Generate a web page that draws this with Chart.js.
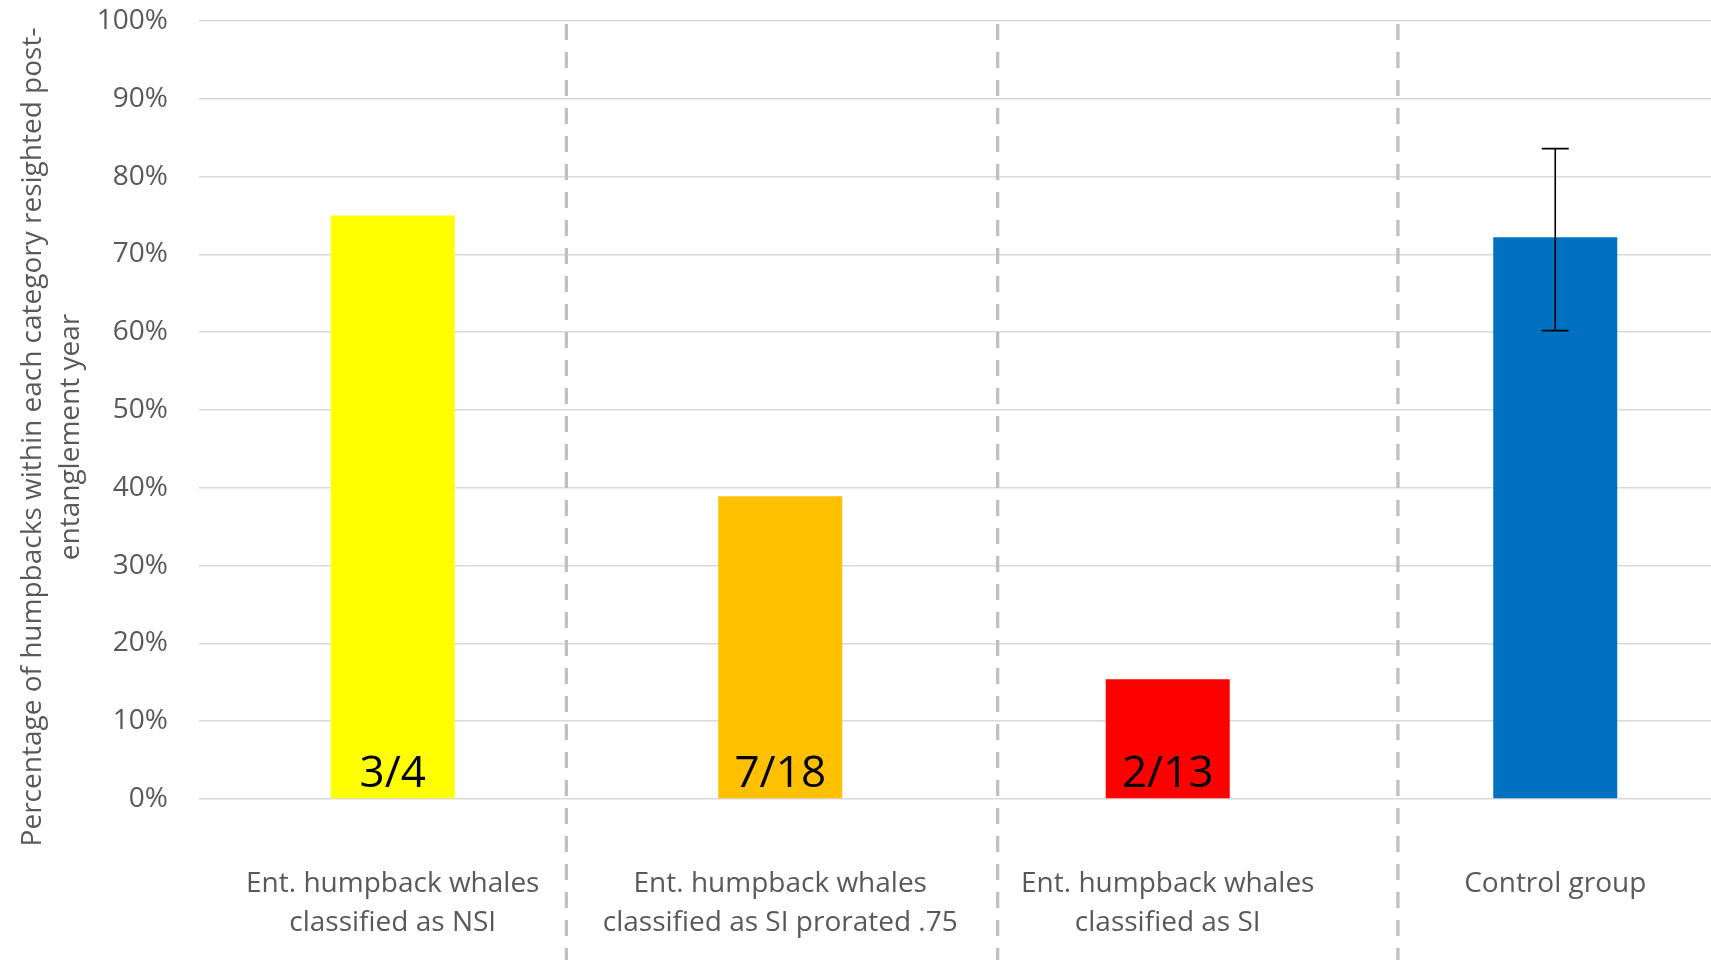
<!DOCTYPE html>
<html>
<head>
<meta charset="utf-8">
<script src="https://cdn.jsdelivr.net/npm/chart.js@4.4.1/dist/chart.umd.min.js"></script>
<style>
  html, body { margin: 0; padding: 0; background: #fff; overflow: hidden; }
  #wrap { width: 1750px; height: 960px; position: relative; }
</style>
</head>
<body>
<div id="wrap"><canvas id="chart"></canvas></div>
<script>
// ---------------------------
// Data
// ---------------------------
const categories = [
    ["Ent. humpback whales", "classified as NSI"],
    ["Ent. humpback whales", "classified as SI prorated .75"],
    ["Ent. humpback whales", "classified as SI"],
    ["Control group"]
];
const percentResighted = [75, 38.9, 15.4, 72.2];
const barColors = ["#FFFF00", "#FFC000", "#FF0000", "#0070C0"];
const barLabels = ["3/4", "7/18", "2/13", ""];
// error bar on control group only: [low, high]
const errorLow = [null, null, null, 60.2];
const errorHigh = [null, null, null, 83.6];
// dashed separators, in category-index units
const separatorPositions = [0.448, 1.561, 2.594];
const yTitleLines = [
    "Percentage of humpbacks within each category resighted post-",
    "entanglement year"
];

const FONT = "'Open Sans', sans-serif";
const GREY_TEXT = "#595959";

// ---------------------------
// Plugins
// ---------------------------
const separators = {
    id: "separators",
    beforeDatasetsDraw(chart) {
        const { ctx, chartArea, scales } = chart;
        ctx.save();
        ctx.strokeStyle = "#c0c0c0";
        ctx.lineWidth = 3.3;
        ctx.setLineDash([16, 12]);
        separatorPositions.forEach(p => {
            const x = scales.x.getPixelForValue(p);
            ctx.beginPath();
            ctx.moveTo(x, chartArea.top + 3);
            ctx.lineTo(x, chart.height);
            ctx.stroke();
        });
        ctx.restore();
    }
};

const barExtras = {
    id: "barExtras",
    afterDatasetsDraw(chart) {
        const { ctx, scales } = chart;
        const bars = chart.getDatasetMeta(0).data;
        ctx.save();
        // fraction labels at the foot of each bar
        ctx.fillStyle = "#000";
        ctx.font = "44px " + FONT;
        ctx.textAlign = "center";
        ctx.textBaseline = "alphabetic";
        bars.forEach((b, i) => {
            if (barLabels[i]) ctx.fillText(barLabels[i], b.x, b.base - 11);
        });
        // error bars
        ctx.strokeStyle = "#000";
        ctx.lineWidth = 1.6;
        bars.forEach((b, i) => {
            if (errorLow[i] == null) return;
            const y1 = scales.y.getPixelForValue(errorLow[i]);
            const y2 = scales.y.getPixelForValue(errorHigh[i]);
            ctx.beginPath();
            ctx.moveTo(b.x, y1); ctx.lineTo(b.x, y2);
            ctx.moveTo(b.x - 13.5, y1); ctx.lineTo(b.x + 13.5, y1);
            ctx.moveTo(b.x - 13.5, y2); ctx.lineTo(b.x + 13.5, y2);
            ctx.stroke();
        });
        ctx.restore();
    }
};

const yTitle = {
    id: "yTitle",
    afterDraw(chart) {
        const { ctx, chartArea } = chart;
        const cy = (chartArea.top + chartArea.bottom) / 2 + 27;
        ctx.save();
        ctx.fillStyle = GREY_TEXT;
        ctx.font = "28px " + FONT;
        ctx.textAlign = "center";
        ctx.textBaseline = "middle";
        ctx.translate(33, cy);
        ctx.rotate(-Math.PI / 2);
        yTitleLines.forEach((t, i) => ctx.fillText(t, 0, i * 38));
        ctx.restore();
    }
};

// ---------------------------
// Chart
// ---------------------------
new Chart(document.getElementById("chart"), {
    type: "bar",
    data: {
        labels: categories,
        datasets: [{
            data: percentResighted,
            backgroundColor: barColors,
            borderWidth: 0,
            barPercentage: 0.32,
            categoryPercentage: 1
        }]
    },
    options: {
        responsive: true,
        maintainAspectRatio: false,
        animation: false,
        layout: { padding: { top: 21, right: 1, left: 0, bottom: 0 } },
        plugins: {
            legend: { display: false },
            tooltip: { enabled: false }
        },
        scales: {
            x: {
                grid: { display: false },
                border: { display: false },
                ticks: {
                    color: GREY_TEXT,
                    font: { family: FONT, size: 28, lineHeight: 1.39 },
                    padding: 58,
                    maxRotation: 0,
                    autoSkip: false
                },
                afterFit: s => { s.height = 161; s.paddingLeft = 0; s.paddingRight = 0; }
            },
            y: {
                min: 0,
                max: 100,
                ticks: {
                    stepSize: 10,
                    color: GREY_TEXT,
                    font: { family: FONT, size: 28 },
                    padding: 31,
                    callback: v => v + "%"
                },
                grid: { color: "#d9d9d9", lineWidth: 1.6, drawTicks: false },
                border: { display: false },
                afterFit: s => { s.width = 199; s.paddingTop = 0; s.paddingBottom = 0; }
            }
        }
    },
    plugins: [separators, barExtras, yTitle]
});
</script>
</body>
</html>
